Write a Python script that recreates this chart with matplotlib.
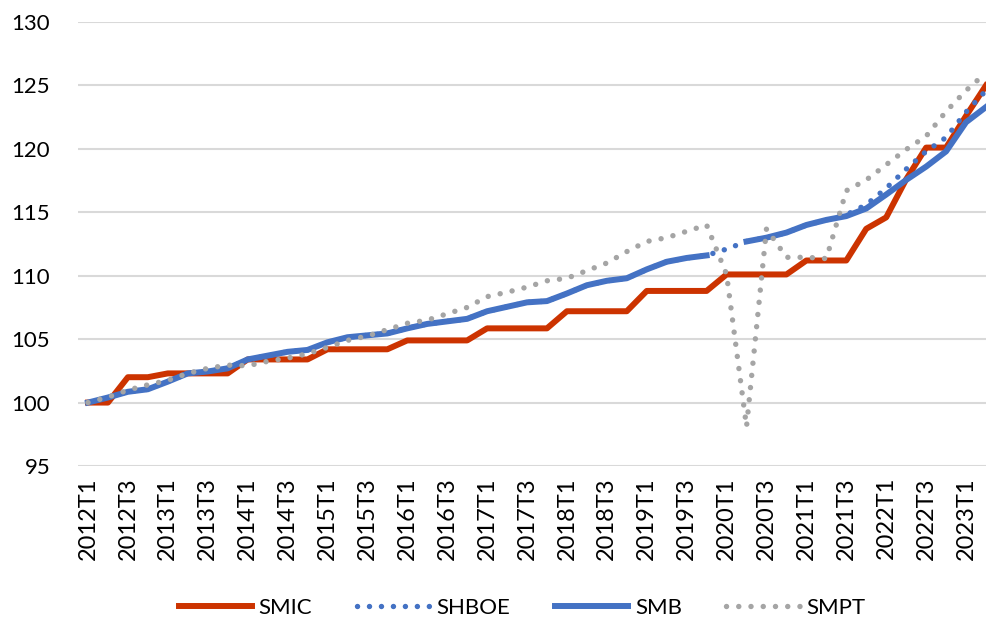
import matplotlib
matplotlib.use("Agg")
import matplotlib.pyplot as plt
import numpy as np

plt.rcParams['font.family'] = ['Lato', 'DejaVu Sans']

quarters = [f"{y}T{q}" for y in range(2012, 2024) for q in range(1, 5)][:46]

smic = [100.0, 100.0, 102.0, 102.0, 102.3, 102.3, 102.3, 102.3,
        103.4, 103.4, 103.4, 103.4, 104.2, 104.2, 104.2, 104.2,
        104.9, 104.9, 104.9, 104.9, 105.85, 105.85, 105.85, 105.85,
        107.2, 107.2, 107.2, 107.2, 108.8, 108.8, 108.8, 108.8,
        110.1, 110.1, 110.1, 110.1, 111.2, 111.2, 111.2, 113.7,
        114.6, 117.6, 120.1, 120.1, 122.6, 125.0]

smb = [100.0, 100.4, 100.85, 101.05, 101.65, 102.3, 102.45, 102.7,
       103.4, 103.7, 104.0, 104.15, 104.75, 105.15, 105.3, 105.45,
       105.85, 106.2, 106.4, 106.6, 107.2, 107.55, 107.9, 108.0,
       108.6, 109.25, 109.6, 109.8, 110.5, 111.1, 111.4, 111.6,
       np.nan, 112.7, 113.0, 113.4, 114.0, 114.4, 114.7, 115.3,
       116.4, 117.55, 118.6, 119.8, 122.1, 123.3]

shboe = [100.0, 100.4, 100.85, 101.05, 101.65, 102.3, 102.45, 102.7,
         103.4, 103.7, 104.0, 104.15, 104.75, 105.15, 105.3, 105.45,
         105.85, 106.2, 106.4, 106.6, 107.2, 107.55, 107.9, 108.0,
         108.6, 109.25, 109.6, 109.8, 110.5, 111.1, 111.4, 111.6,
         112.1, 112.7, 113.0, 113.4, 114.0, 114.4, 114.8, 115.6,
         116.9, 118.4, 119.8, 120.9, 122.9, 124.6]

smpt = [100.0, 100.43, 100.98, 101.4, 101.75, 102.3, 102.7, 102.95,
        102.9, 103.25, 103.5, 103.85, 104.35, 104.9, 105.25, 105.75,
        106.25, 106.5, 107.0, 107.5, 108.35, 108.7, 109.1, 109.6,
        109.8, 110.4, 111.0, 111.9, 112.7, 113.0, 113.5, 114.0,
        110.1, 98.1, 113.7, 111.45, 111.45, 111.35, 116.7, 117.55,
        118.75, 119.95, 121.0, 122.95, 124.6, 126.0]

labels = ["SMIC", "SHBOE", "SMB", "SMPT"]
colors = ["#CC3300", "#4472C4", "#4472C4", "#A5A5A5"]

W, H = 987, 622
fig = plt.figure(figsize=(W / 100, H / 100), dpi=100)
ax = fig.add_axes([78 / W, 156 / H, 909 / W, 444 / H])

x = np.arange(len(quarters))
ax.plot(x, smic, color=colors[0], lw=4.3, label=labels[0], zorder=3)
ax.plot(x, shboe, color=colors[1], lw=3.9, linestyle=(0, (0.01, 2.2)),
        dash_capstyle='round', label=labels[1], zorder=4)
ax.plot(x, smb, color=colors[2], lw=4.3, label=labels[2], zorder=5)
ax.plot(x, smpt, color=colors[3], lw=3.9, linestyle=(0, (0.01, 2.25)),
        dash_capstyle='round', label=labels[3], zorder=6)

ax.set_xlim(-0.5, 45.05)
ax.set_ylim(95, 130)
ax.set_yticks(np.arange(95, 131, 5))
ax.set_xticks(x[::2])
ax.set_xticklabels(quarters[::2], rotation=90, fontsize=17)
ax.tick_params(axis='y', labelsize=16, length=0, pad=20)
ax.tick_params(axis='x', length=0, pad=8)
ax.grid(axis='y', color='#D9D9D9', lw=1.5, zorder=0)
for s in ax.spines.values():
    s.set_visible(False)

leg = fig.legend(loc='center', bbox_to_anchor=(522 / W, 1 - 608 / H), ncol=4,
                 frameon=False, fontsize=16, handlelength=3.3, columnspacing=2.0,
                 handletextpad=0.3)

fig.savefig("out.png", dpi=100)
